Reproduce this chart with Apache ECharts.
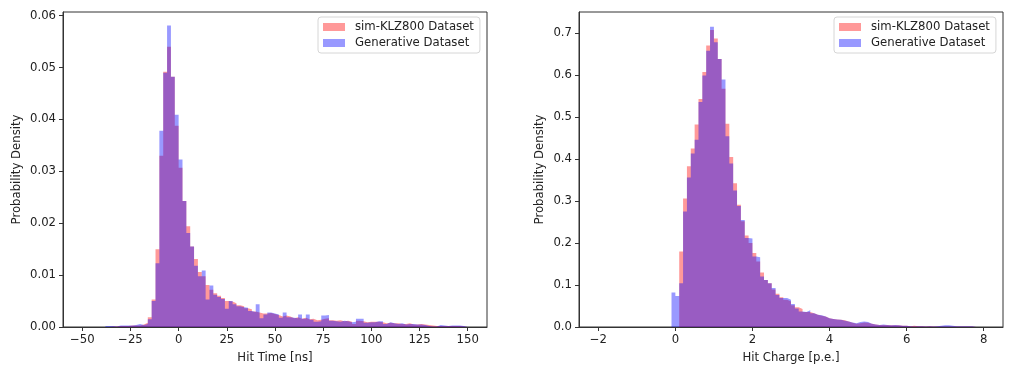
<!DOCTYPE html>
<html>
<head>
<meta charset="utf-8">
<script src="https://cdn.jsdelivr.net/npm/echarts@6/dist/echarts.min.js"></script>
<style>
html, body { margin: 0; padding: 0; background: #fff; }
#main { width: 1017px; height: 373px; }
</style>
</head>
<body>
<div id="main"></div>
<script>
// 数据
var seriesNames = ['sim-KLZ800 Dataset', 'Generative Dataset'];

// Hit Time: bins of 2 ns starting at -38 ns
var timeStart = -38, timeWidth = 2;
var timeRed = [
    0, 0.0001, 0.0001, 0.0002, 0.0002, 0.0002, 0.0003, 0.0003, 0.0003, 0.0005,
    0.0008, 0.0019, 0.0053, 0.0150, 0.0330, 0.0492, 0.0540, 0.0482, 0.0388, 0.0307,
    0.0243, 0.0194, 0.0155, 0.0131, 0.0106, 0.0098, 0.0081, 0.0072, 0.0065, 0.0060,
    0.0056, 0.0050, 0.0049, 0.0046, 0.0042, 0.0040, 0.0036, 0.0034, 0.0030, 0.0028,
    0.0026, 0.0026, 0.0027, 0.0025, 0.0023, 0.0020, 0.0022, 0.0020, 0.0017, 0.0019,
    0.0016, 0.0018, 0.0015, 0.0016, 0.0013, 0.0014, 0.0016, 0.0017, 0.0013, 0.0012,
    0.0013, 0.0011, 0.0012, 0.0010, 0.0006, 0.0012, 0.0011, 0.0009, 0.0010, 0.0010,
    0.0010, 0.0009, 0.0007, 0.0008, 0.0007, 0.0007, 0.0006, 0.0006, 0.0007, 0.0005,
    0.0005, 0.0006, 0.0005, 0.0004, 0.0003, 0.0002, 0.0002, 0.0002, 0.0002, 0.0002,
    0.0002, 0.0002, 0.0001, 0
];
var timeBlue = [
    0.0002, 0.0002, 0.0001, 0.0003, 0.0003, 0.0003, 0.0003, 0.0004, 0.0006, 0.0004,
    0.0006, 0.0015, 0.0050, 0.0123, 0.0378, 0.0490, 0.0581, 0.0482, 0.0409, 0.0323,
    0.0243, 0.0181, 0.0155, 0.0118, 0.0098, 0.0109, 0.0053, 0.0080, 0.0062, 0.0058,
    0.0054, 0.0035, 0.0050, 0.0044, 0.0040, 0.0038, 0.0037, 0.0031, 0.0029, 0.0044,
    0.0017, 0.0024, 0.0028, 0.0026, 0.0024, 0.0018, 0.0028, 0.0019, 0.0018, 0.0017,
    0.0024, 0.0016, 0.0024, 0.0014, 0.0010, 0.0011, 0.0022, 0.0023, 0.0012, 0.0011,
    0.0010, 0.0012, 0.0011, 0.0009, 0.0010, 0.0016, 0.0016, 0.0008, 0.0009, 0.0009,
    0.0011, 0.0011, 0.0006, 0.0009, 0.0007, 0.0006, 0.0007, 0.0005, 0.0006, 0.0006,
    0.0005, 0.0005, 0.0004, 0.0002, 0.0001, 0.0001, 0.0004, 0.0003, 0.0002, 0.0003,
    0.0003, 0.0003, 0.0002, 0.0001
];

// Hit Charge: bins of 0.1 p.e. starting at -0.1 p.e.
var chargeStart = -0.1, chargeWidth = 0.1;
var chargeRed = [
    0, 0, 0.180, 0.306, 0.383, 0.425, 0.482, 0.543, 0.607, 0.670,
    0.707, 0.687, 0.638, 0.567, 0.484, 0.405, 0.342, 0.291, 0.252, 0.218,
    0.200, 0.176, 0.156, 0.130, 0.112, 0.104, 0.089, 0.079, 0.071, 0.065,
    0.061, 0.052, 0.047, 0.043, 0.036, 0.036, 0.033, 0.029, 0.027, 0.025,
    0.021, 0.019, 0.018, 0.017, 0.016, 0.013, 0.010, 0.008, 0.009, 0.011,
    0.010, 0.008, 0.006, 0.005, 0.005, 0.005, 0.004, 0.004, 0.004, 0.003,
    0.003, 0.002, 0.003, 0.002, 0.002, 0.001, 0.002, 0.001, 0.001, 0.001,
    0.001, 0.001, 0.001, 0.001, 0.001, 0.001, 0.001, 0.001, 0.001
];
var chargeBlue = [
    0.082, 0.074, 0.104, 0.275, 0.356, 0.413, 0.446, 0.536, 0.599, 0.658,
    0.715, 0.678, 0.638, 0.589, 0.454, 0.389, 0.325, 0.288, 0.255, 0.212,
    0.211, 0.168, 0.166, 0.120, 0.112, 0.104, 0.093, 0.076, 0.069, 0.069,
    0.065, 0.055, 0.044, 0.037, 0.036, 0.040, 0.033, 0.029, 0.028, 0.025,
    0.021, 0.019, 0.018, 0.017, 0.015, 0.013, 0.011, 0.009, 0.012, 0.013,
    0.012, 0.008, 0.006, 0.005, 0.006, 0.005, 0.004, 0.005, 0.004, 0.003,
    0.003, 0.002, 0.001, 0.002, 0.002, 0.001, 0.002, 0.001, 0.002, 0.003,
    0.004, 0.004, 0.003, 0.002, 0.002, 0.002, 0.002, 0.002, 0.001
];

// 刻度
var timeTicks = [-50, -25, 0, 25, 50, 75, 100, 125, 150];
var chargeTicks = [-2, 0, 2, 4, 6, 8];
var timeYTicks = [0, 0.01, 0.02, 0.03, 0.04, 0.05, 0.06];
var chargeYTicks = [0, 0.1, 0.2, 0.3, 0.4, 0.5, 0.6, 0.7];

var RED = 'rgba(255,0,0,0.4)';
var BLUE = 'rgba(0,0,255,0.4)';
var FONT = 'DejaVu Sans';
var FS = 11.7;

// histogram -> step points (left edges + closing edge)
function steps(start, width, vals) {
    var pts = [];
    for (var i = 0; i < vals.length; i++) {
        pts.push([start + i * width, vals[i]]);
    }
    pts.push([start + vals.length * width, 0]);
    return pts;
}

function minus(v) {
    return v < 0 ? '\u2212' + Math.abs(v) : String(v);
}

function xAxisOf(gridIndex, min, max, ticks, name) {
    return {
        type: 'value', gridIndex: gridIndex, min: min, max: max, z: 5,
        name: name, nameLocation: 'middle', nameGap: 25,
        nameTextStyle: { fontFamily: FONT, fontSize: FS, color: '#222' },
        axisLine: { show: true, onZero: false, lineStyle: { color: '#333', width: 1 } },
        axisTick: { show: true, length: 4, customValues: ticks, lineStyle: { color: '#333' } },
        axisLabel: { customValues: ticks, margin: 7, fontFamily: FONT, fontSize: FS, color: '#222', formatter: minus },
        splitLine: { show: false }
    };
}

function yAxisOf(gridIndex, max, ticks, digits, gap) {
    return {
        type: 'value', gridIndex: gridIndex, min: 0, max: max, z: 5,
        name: 'Probability Density', nameLocation: 'middle', nameGap: gap,
        nameTextStyle: { fontFamily: FONT, fontSize: FS, color: '#222' },
        axisLine: { show: true, onZero: false, lineStyle: { color: '#333', width: 1 } },
        axisTick: { show: true, length: 4, customValues: ticks, lineStyle: { color: '#333' } },
        axisLabel: { customValues: ticks, margin: 7, fontFamily: FONT, fontSize: FS, color: '#222',
            formatter: function (v) { return v.toFixed(digits); } },
        splitLine: { show: false }
    };
}

function histSeries(name, color, idx, pts) {
    return {
        name: name, type: 'line', step: 'end',
        xAxisIndex: idx, yAxisIndex: idx,
        data: pts, showSymbol: false, symbol: 'none',
        lineStyle: { width: 0 },
        itemStyle: { color: color },
        areaStyle: { color: color, opacity: 1 },
        emphasis: { disabled: true }
    };
}

function legendOf(left) {
    return {
        left: left, top: 17, orient: 'vertical',
        icon: 'rect', itemWidth: 22, itemHeight: 8, itemGap: 4,
        padding: [4, 6, 4, 5],
        backgroundColor: 'rgba(255,255,255,0.8)',
        borderColor: '#d6d6d6', borderWidth: 1, borderRadius: 3,
        textStyle: { fontFamily: FONT, fontSize: FS, color: '#222', padding: [0, 0, 0, 5] },
        data: [
            { name: seriesNames[0], itemStyle: { color: RED } },
            { name: seriesNames[1], itemStyle: { color: BLUE } }
        ]
    };
}

var myChart = echarts.init(document.getElementById('main'), null, { renderer: 'canvas' });

var option = {
    animation: false,
    backgroundColor: '#fff',
    grid: [
        { left: 63, top: 12, width: 424, height: 315, show: true, borderColor: '#333', borderWidth: 1 },
        { left: 579, top: 12, width: 424, height: 315, show: true, borderColor: '#333', borderWidth: 1 }
    ],
    xAxis: [
        xAxisOf(0, -60, 160, timeTicks, 'Hit Time [ns]'),
        xAxisOf(1, -2.5, 8.5, chargeTicks, 'Hit Charge [p.e.]')
    ],
    yAxis: [
        yAxisOf(0, 0.0607, timeYTicks, 2, 40),
        yAxisOf(1, 0.75, chargeYTicks, 1, 33)
    ],
    legend: [legendOf(318), legendOf(834)],
    series: [
        histSeries(seriesNames[0], RED, 0, steps(timeStart, timeWidth, timeRed)),
        histSeries(seriesNames[1], BLUE, 0, steps(timeStart, timeWidth, timeBlue)),
        histSeries(seriesNames[0], RED, 1, steps(chargeStart, chargeWidth, chargeRed)),
        histSeries(seriesNames[1], BLUE, 1, steps(chargeStart, chargeWidth, chargeBlue))
    ]
};

myChart.setOption(option);
</script>
</body>
</html>
